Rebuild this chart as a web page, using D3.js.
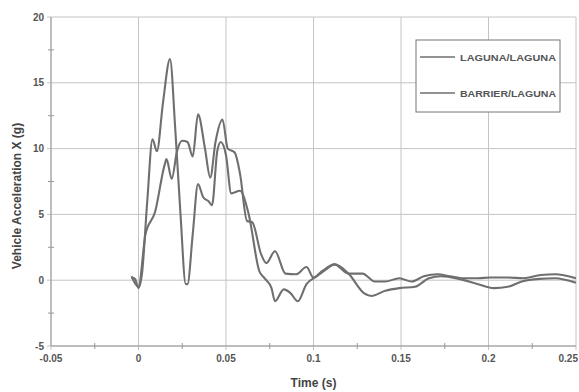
<!DOCTYPE html>
<html>
<head>
<meta charset="utf-8">
<script src="https://cdn.jsdelivr.net/npm/d3@7"></script>
<style>
  html, body { margin: 0; padding: 0; background: #fff; }
  svg { display: block; font-family: "Liberation Sans", Arial, sans-serif; }
</style>
</head>
<body>
<svg id="chart" width="579" height="392"></svg>
<script>
// ---- data ----
const seriesNames = ["LAGUNA/LAGUNA", "BARRIER/LAGUNA"];
const xTicks = [-0.05, 0, 0.05, 0.1, 0.15, 0.2, 0.25];
const xTickLabels = ["-0.05", "0", "0.05", "0.1", "0.15", "0.2", "0.25"];
const yTicks = [-5, 0, 5, 10, 15, 20];
const yTickLabels = ["-5", "0", "5", "10", "15", "20"];

const lagunaTime = [-0.004, -0.002, 0.000, 0.002, 0.005, 0.008, 0.0105, 0.014, 0.018, 0.021, 0.024, 0.027, 0.028,
  0.031, 0.034, 0.037, 0.040, 0.042, 0.045, 0.047, 0.050, 0.053, 0.058, 0.063, 0.069, 0.072, 0.076, 0.078,
  0.083, 0.087, 0.091, 0.096, 0.102, 0.107, 0.112, 0.120, 0.129, 0.133, 0.141, 0.149, 0.158, 0.166, 0.173,
  0.183, 0.194, 0.203, 0.211, 0.219, 0.229, 0.238, 0.250];
const lagunaAcc = [0.2, 0.1, -0.6, 0.5, 6.0, 10.7, 9.8, 13.5, 16.8, 11.5, 5.0, -0.3, -0.3,
  3.5, 7.3, 6.3, 6.0, 5.7, 9.8, 10.5, 9.5, 6.6, 6.8, 5.0, 0.7, 0.15, -0.6, -1.6,
  -0.7, -1.0, -1.6, -0.3, 0.3, 0.8, 1.2, 0.5, -1.0, -1.2, -0.8, -0.6, -0.5, 0.15, 0.3,
  0.1, -0.3, -0.6, -0.5, -0.1, 0.1, 0.15, -0.2];

const barrierTime = [-0.004, 0.000, 0.004, 0.0095, 0.015, 0.016, 0.019, 0.022, 0.025, 0.028, 0.031, 0.034,
  0.038, 0.041, 0.044, 0.048, 0.051, 0.055, 0.058, 0.062, 0.065, 0.070, 0.073, 0.078, 0.084, 0.090, 0.096,
  0.100, 0.105, 0.112, 0.120, 0.128, 0.135, 0.141, 0.149, 0.156, 0.163, 0.171, 0.178, 0.186, 0.194,
  0.201, 0.211, 0.220, 0.230, 0.238, 0.250];
const barrierAcc = [0.3, -0.5, 3.5, 5.2, 8.8, 9.2, 7.7, 9.8, 10.6, 10.5, 9.4, 12.6,
  10.0, 7.8, 10.5, 12.2, 10.0, 9.7, 8.1, 4.5, 4.4, 2.0, 1.3, 2.2, 0.5, 0.45, 1.0,
  0.2, 0.7, 1.2, 0.5, 0.5, -0.1, -0.1, 0.15, -0.1, 0.3, 0.45, 0.3, 0.15, 0.15,
  0.2, 0.2, 0.15, 0.4, 0.45, 0.15];

// ---- layout ----
const svg = d3.select("#chart");
const x = d3.scaleLinear().domain([-0.05, 0.25]).range([51, 576]);
const y = d3.scaleLinear().domain([-5, 20]).range([346, 17]);

const gridColor = "#c4c4c4";
const axisColor = "#999";
const lineColor = "#6f6f6f";

// gridlines
svg.append("g").selectAll("line").data(yTicks).join("line")
  .attr("x1", x(-0.05) - 4).attr("x2", x(0.25))
  .attr("y1", d => y(d)).attr("y2", d => y(d))
  .attr("stroke", gridColor).attr("stroke-width", 1);
svg.append("g").selectAll("line").data(xTicks).join("line")
  .attr("x1", d => x(d)).attr("x2", d => x(d))
  .attr("y1", y(20)).attr("y2", y(-5) + 4)
  .attr("stroke", gridColor).attr("stroke-width", 1);

// axes lines
svg.append("line").attr("x1", x(-0.05)).attr("x2", x(-0.05)).attr("y1", y(20)).attr("y2", y(-5))
  .attr("stroke", axisColor).attr("stroke-width", 1);
svg.append("line").attr("x1", x(-0.05)).attr("x2", x(0.25)).attr("y1", y(-5)).attr("y2", y(-5))
  .attr("stroke", axisColor).attr("stroke-width", 1);

// minor ticks
const yMinor = d3.range(-2.5, 20, 5);
svg.append("g").selectAll("line").data(yMinor).join("line")
  .attr("x1", x(-0.05) - 3).attr("x2", x(-0.05) + 3)
  .attr("y1", d => y(d)).attr("y2", d => y(d))
  .attr("stroke", axisColor);
const xMinor = d3.range(-0.025, 0.25, 0.05);
svg.append("g").selectAll("line").data(xMinor).join("line")
  .attr("x1", d => x(d)).attr("x2", d => x(d))
  .attr("y1", y(-5) - 3).attr("y2", y(-5) + 3)
  .attr("stroke", axisColor);

// tick labels
svg.append("g").selectAll("text").data(yTicks).join("text")
  .attr("x", x(-0.05) - 7).attr("y", d => y(d) + 3.5)
  .attr("text-anchor", "end").attr("font-size", 10).attr("font-weight", "bold")
  .attr("fill", "#555").text((d, i) => yTickLabels[i]);
svg.append("g").selectAll("text").data(xTicks).join("text")
  .attr("x", (d, i) => i === xTicks.length - 1 ? 578 : x(d)).attr("y", y(-5) + 16)
  .attr("text-anchor", (d, i) => i === xTicks.length - 1 ? "end" : "middle")
  .attr("font-size", 10).attr("font-weight", "bold")
  .attr("fill", "#555").text((d, i) => xTickLabels[i]);

// axis titles
svg.append("text").attr("x", x(0.1)).attr("y", 387)
  .attr("text-anchor", "middle").attr("font-size", 12).attr("font-weight", "bold")
  .attr("fill", "#444").text("Time (s)");
svg.append("text").attr("transform", `translate(21,196) rotate(-90)`)
  .attr("text-anchor", "middle").attr("font-size", 12).attr("font-weight", "bold")
  .attr("fill", "#444").text("Vehicle Acceleration X (g)");

// lines
const line = d3.line().x(d => x(d[0])).y(d => y(d[1])).curve(d3.curveMonotoneX);
const series = [
  d3.zip(lagunaTime, lagunaAcc),
  d3.zip(barrierTime, barrierAcc)
];
svg.append("g").selectAll("path").data(series).join("path")
  .attr("d", line).attr("fill", "none")
  .attr("stroke", lineColor).attr("stroke-width", 2.1)
  .attr("stroke-linejoin", "round");

// legend
const lg = svg.append("g");
lg.append("rect").attr("x", 416).attr("y", 40).attr("width", 144).attr("height", 72)
  .attr("fill", "#fff").attr("stroke", "#777").attr("stroke-width", 1);
const legY = [57, 93];
seriesNames.forEach((n, i) => {
  lg.append("line").attr("x1", 420).attr("x2", 455).attr("y1", legY[i]).attr("y2", legY[i])
    .attr("stroke", lineColor).attr("stroke-width", 1.6);
  lg.append("text").attr("x", 460).attr("y", legY[i] + 3.5)
    .attr("font-size", 9.5).attr("font-weight", "bold").attr("fill", "#555")
    .attr("textLength", 96).attr("lengthAdjust", "spacingAndGlyphs")
    .text(n);
});
</script>
</body>
</html>
